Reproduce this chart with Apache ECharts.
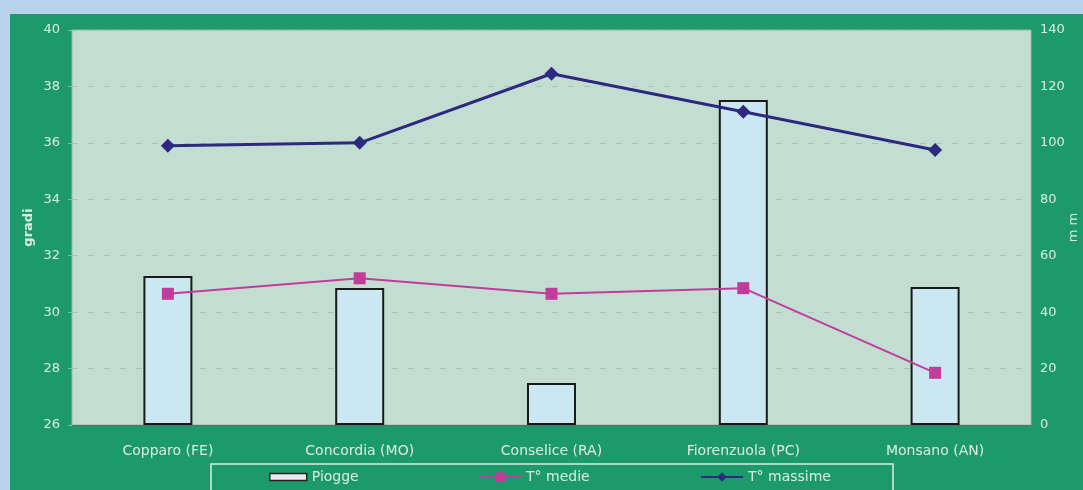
<!DOCTYPE html>
<html>
<head>
<meta charset="utf-8">
<script src="https://cdn.jsdelivr.net/npm/echarts@6/dist/echarts.min.js"></script>
<style>
html,body{margin:0;padding:0;background:#b8d3ec;}
#c{width:1083px;height:490px;}
</style>
</head>
<body>
<div id="c"></div>
<script>
const categories = ['Copparo (FE)', 'Concordia (MO)', 'Conselice (RA)', 'Fiorenzuola (PC)', 'Monsano (AN)'];
const piogge = [52.8, 48.6, 14.9, 115.2, 48.9];
const tMedie = [30.65, 31.2, 30.65, 30.85, 27.85];
const tMassime = [35.9, 36.0, 38.45, 37.1, 35.75];
const leftTicks = [26, 28, 30, 32, 34, 36, 38, 40];
const rightTicks = [0, 20, 40, 60, 80, 100, 120, 140];

const FONT = 'DejaVu Sans';
const TXT = '#dcebe4';
const chart = echarts.init(document.getElementById('c'), null, {renderer: 'canvas'});
const legendText = {color: TXT, fontSize: 14, fontFamily: FONT};
chart.setOption({
  animation: false,
  backgroundColor: '#b8d3ec',
  textStyle: {fontFamily: FONT},
  graphic: [
    {type: 'rect', z: -10, shape: {x: 10, y: 14, width: 1073, height: 476}, style: {fill: '#1d9a6c'}},
    {type: 'rect', z: 10, shape: {x: 211, y: 464, width: 682, height: 32}, style: {fill: 'none', stroke: '#d9ece3', lineWidth: 1.5}}
  ],
  grid: {
    left: 72, right: 52, top: 30, bottom: 65,
    outerBoundsMode: 'none',
    containLabel: false,
    show: true, backgroundColor: '#c3ddd2', borderColor: '#9fb8ae', borderWidth: 1
  },
  legend: [
    {left: 269, top: 470, padding: 0, itemWidth: 37, itemHeight: 7, itemGap: 6, textStyle: legendText,
     data: [{name: 'Piogge', icon: 'rect', itemStyle: {color: '#e6e9ee', borderColor: '#222', borderWidth: 1.5}}]},
    {left: 478, top: 470, padding: 0, itemWidth: 42, itemHeight: 12, textStyle: legendText, data: ['T° medie']},
    {left: 700, top: 470, padding: 0, itemWidth: 42, itemHeight: 12, textStyle: legendText, data: ['T° massime']}
  ],
  xAxis: {
    type: 'category',
    data: categories,
    axisLine: {show: true, lineStyle: {color: '#55706a', width: 1}},
    axisTick: {show: false},
    axisLabel: {color: TXT, fontSize: 14, margin: 19, fontFamily: FONT}
  },
  yAxis: [
    {
      type: 'value', min: 26, max: 40, interval: 2,
      name: 'gradi', nameLocation: 'middle', nameGap: 37, nameRotate: 90,
      nameMoveOverlap: false,
      nameTextStyle: {color: TXT, fontSize: 13, fontWeight: 'bold', fontFamily: FONT},
      axisLine: {show: false},
      axisTick: {show: true, length: 4, lineStyle: {color: '#7fbfa3'}},
      axisLabel: {color: TXT, fontSize: 13, margin: 12, fontFamily: FONT,
        formatter: v => leftTicks.includes(v) ? String(v) : ''},
      splitLine: {show: true, lineStyle: {color: '#a9c2b8', type: [6, 10], width: 1}}
    },
    {
      type: 'value', min: 0, max: 140, interval: 20,
      name: 'm m', nameLocation: 'middle', nameGap: 36, nameRotate: 90,
      nameMoveOverlap: false,
      nameTextStyle: {color: TXT, fontSize: 13, fontFamily: FONT},
      axisLine: {show: false},
      axisTick: {show: false},
      axisLabel: {color: TXT, fontSize: 13, margin: 9, fontFamily: FONT,
        formatter: v => rightTicks.includes(v) ? String(v) : ''},
      splitLine: {show: false}
    }
  ],
  series: [
    {
      name: 'Piogge', type: 'bar', yAxisIndex: 1, data: piogge,
      barWidth: 49,
      itemStyle: {color: '#cbe8f2', borderColor: '#1a1a1a', borderWidth: 2}
    },
    {
      name: 'T° medie', type: 'line', yAxisIndex: 0, data: tMedie,
      symbol: 'rect', symbolSize: 12,
      lineStyle: {color: '#c23c9c', width: 2},
      itemStyle: {color: '#c23c9c'}
    },
    {
      name: 'T° massime', type: 'line', yAxisIndex: 0, data: tMassime,
      symbol: 'diamond', symbolSize: 14,
      lineStyle: {color: '#2c2a7e', width: 3},
      itemStyle: {color: '#2c2a7e'}
    }
  ]
});
</script>
</body>
</html>
